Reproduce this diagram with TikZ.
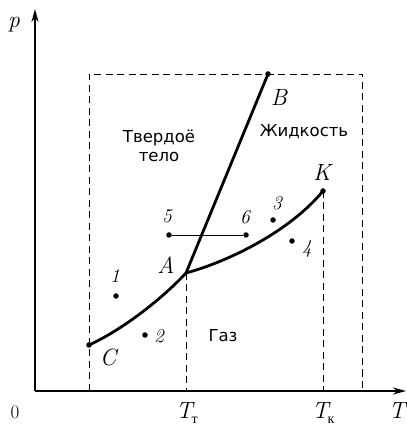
\documentclass[tikz,border=0pt]{standalone}
\usepackage{fontspec}
\newfontfamily\rusans{DejaVu Sans}
\newfontfamily\ruserif{Liberation Serif}
\usetikzlibrary{arrows.meta}
\newcommand{\subru}[1]{\raisebox{-4.5pt}{\ruserif\upshape\fontsize{14}{14}\selectfont #1}}
\begin{document}
\begin{tikzpicture}[x=1pt,y=1pt,
  axis/.style={line width=1.8pt,-{Stealth[length=13pt,width=7pt]}},
  curve/.style={line width=2.8pt,line cap=round},
  guide/.style={line width=0.9pt,dash pattern=on 7pt off 4.5pt},
  dot/.style={circle,fill=black,inner sep=0pt,minimum size=5.5pt},
  lbl/.style={inner sep=0pt,font=\fontsize{23.5}{24}\selectfont\itshape},
  num/.style={inner sep=0pt,font=\fontsize{19.5}{20}\selectfont\itshape},
  region/.style={inner sep=0pt,align=center,font=\rusans\fontsize{16.5}{19}\selectfont}]
\useasboundingbox (0,0) rectangle (407,426);
% points
\coordinate (O) at (35,35);
\coordinate (Ytop) at (35,417);
\coordinate (Xend) at (406,35);
\coordinate (RL) at (89,35);
\coordinate (RLt) at (89,352);
\coordinate (RRt) at (362,352);
\coordinate (RR) at (362,35);
\coordinate (TT) at (186,35);
\coordinate (TK) at (323,35);
\node[dot] (C) at (89,81) {};
\node[dot,minimum size=3pt] (A) at (186,153) {};
\node[dot] (B) at (268,352) {};
\node[dot] (K) at (323,235) {};
\node[dot] (p1) at (116,130) {};
\node[dot] (p2) at (145,91) {};
\node[dot] (p5) at (169,191) {};
\node[dot] (p6) at (246,191) {};
\node[dot] (p3) at (273,206) {};
\node[dot] (p4) at (292,185) {};
% dashed guides
\draw[guide] (RL) -- (RLt) -- (RRt) -- (RR);
\draw[guide] (A.center) -- (TT);
\draw[guide] (K.center) -- (TK);
% axes
\draw[axis] (O) -- (Ytop);
\draw[axis] (O) -- (Xend);
% curves
\draw[curve] (C.center) .. controls (120,95) and (160,125) .. (A.center);
\draw[curve] (A.center) .. controls (230,165) and (290,195) .. (K.center);
\draw[curve] (A.center) -- (B.center);
\draw[line width=0.9pt] (p5) -- (p6);
% labels
\node[lbl,anchor=base] (lp) at (14,398) {p};
\node[lbl,anchor=base] (lT) at (397,7) {T};
\node[inner sep=0pt,font=\fontsize{19}{19}\selectfont,anchor=base] (l0) at (15,7) {0};
\node[lbl,anchor=base west] (lTt) at (176,7) {T\kern-1pt\subru{т}};
\node[lbl,anchor=base west] (lTk) at (312,7) {T\kern-1pt\subru{к}};
\node[lbl] (lB) at (279,329) {B};
\node[lbl] (lK) at (322,254) {K};
\node[lbl] (lA) at (166,161) {A};
\node[lbl] (lC) at (108,69) {C};
\node[num] (l1) at (115,150) {1};
\node[num] (l2) at (159,90) {2};
\node[num] (l5) at (167,210) {5};
\node[num] (l6) at (245,209) {6};
\node[num] (l3) at (277,223) {3};
\node[num] (l4) at (307,177) {4};
\node[region] (solid) at (159,280) {Твердоё\\тело};
\node[region] (liquid) at (304,294) {Жидкость};
\node[region] (gas) at (223,90) {Газ};
\end{tikzpicture}
\end{document}
